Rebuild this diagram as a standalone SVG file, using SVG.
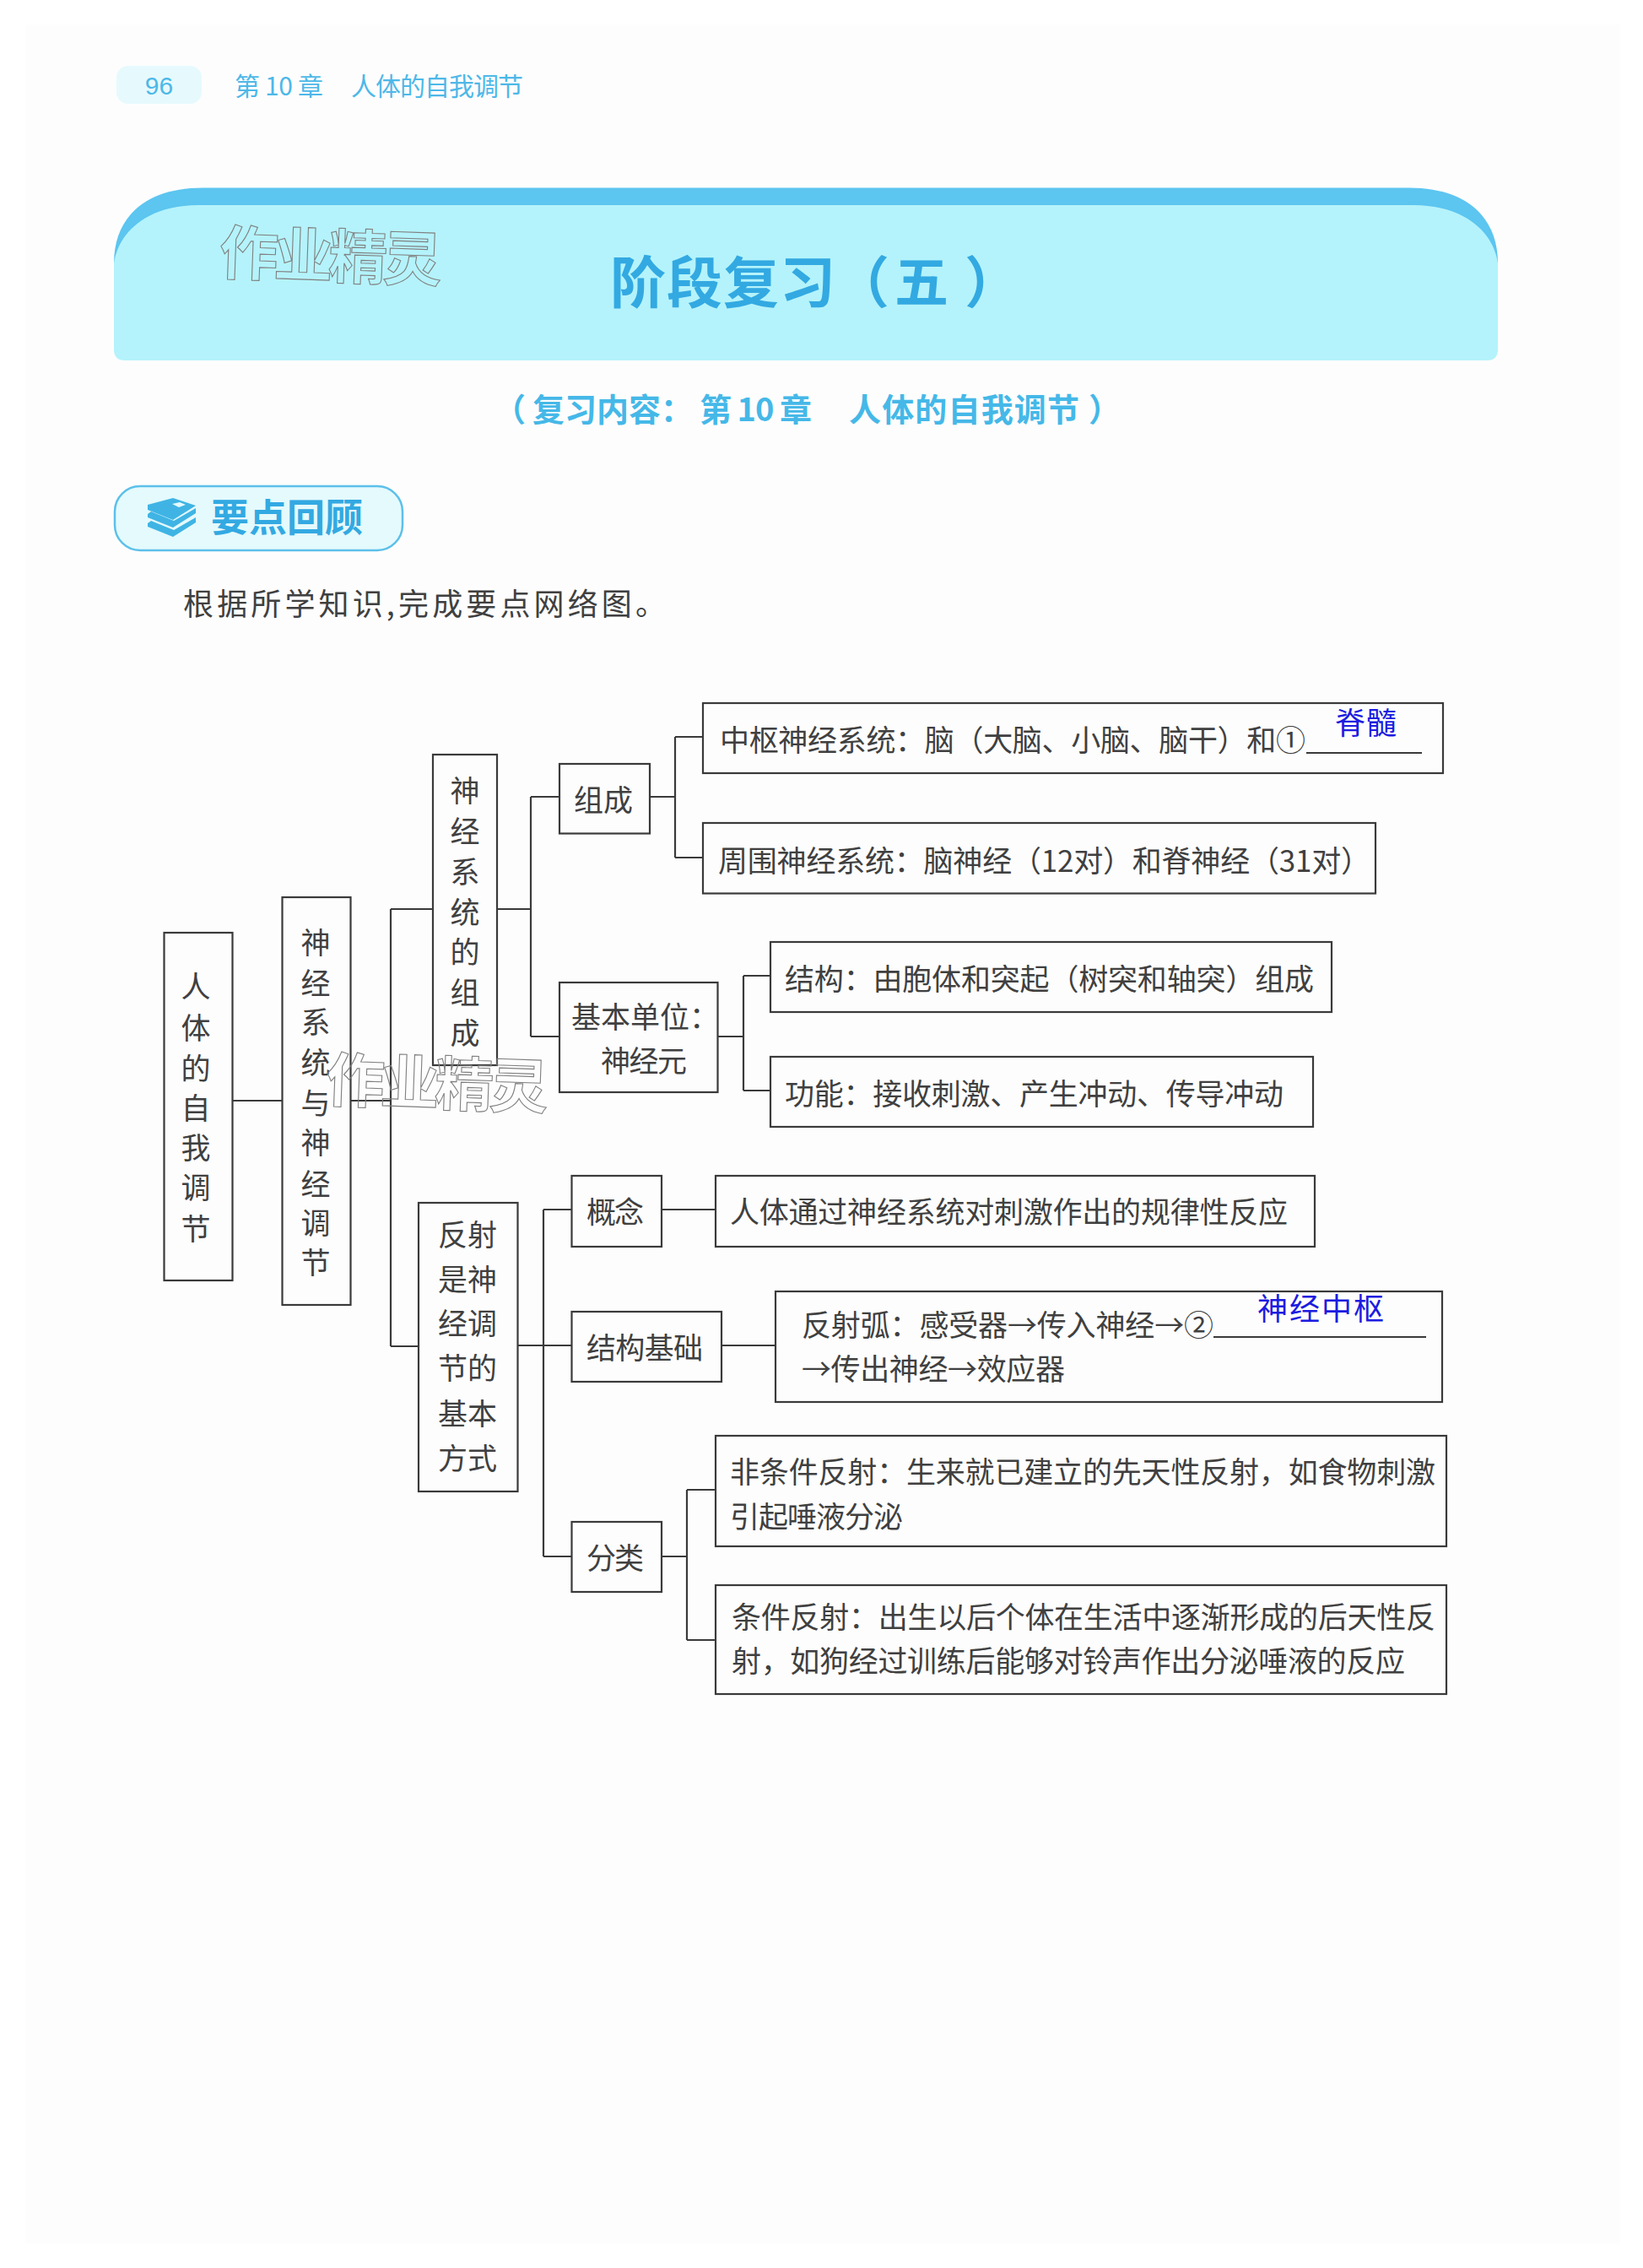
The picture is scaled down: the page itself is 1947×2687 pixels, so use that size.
<svg xmlns="http://www.w3.org/2000/svg" width="1947" height="2687" viewBox="0 0 1947 2687">
<defs>
<style>
text{font-family:"Noto Sans CJK SC","Noto Sans",sans-serif}
.t{font-size:35px;fill:#404040}
.m{text-anchor:middle}
.a{font-size:36px;fill:#1c1ce0}
.b{fill:#fdfdfd;stroke:#3a3a3a;stroke-width:2.2}
.c{fill:none;stroke:#3a3a3a;stroke-width:2.2}
.h{fill:#33a9e2;font-weight:700}
.s{fill:#45b8e8;font-weight:700;font-size:38px}
.p{fill:#4db8e8;font-size:30px}
.w{fill:none;stroke:#808080;stroke-width:1.1;font-size:70px;font-weight:700}
</style>
</defs>
<rect width="1947" height="2687" fill="#ffffff"/>
<rect x="30" y="29" width="1890" height="2629" fill="#fdfdfd"/>
<g id="header">
<rect x="138" y="78" width="101" height="45" rx="14" fill="#e6fafd"/>
<text x="188.500" y="112" class="m" font-size="30" fill="#4db8e8" style="font-family:'Liberation Sans',sans-serif">96</text>
<text x="278" y="113" class="p" textLength="105" lengthAdjust="spacing">第 10 章</text>
<text x="416" y="113" class="p" textLength="204" lengthAdjust="spacing">人体的自我调节</text>
</g>
<g id="banner">
<path d="M135 380V312C135 255 175 222.500 240 222.500H1670C1735 222.500 1775 255 1775 312V380Z" fill="#5cc5f0"/>
<path d="M135 414V312C140 275 175 243 235 243H1675C1735 243 1770 275 1775 312V414Q1775 427 1762 427H148Q135 427 135 414Z" fill="#b4f3fb"/>
<text x="723" y="359" font-size="66" class="h" textLength="267" lengthAdjust="spacing">阶段复习</text>
<text x="988" y="359" font-size="66" class="h">（</text>
<text x="1060" y="357" font-size="64" class="h">五</text>
<text x="1143" y="359" font-size="66" class="h">）</text>
<text x="585" y="499" class="s">（</text>
<text x="631" y="499" class="s">复习内容：</text>
<text x="829" y="499" class="s" textLength="133" lengthAdjust="spacing">第 10 章</text>
<text x="1006" y="499" class="s" textLength="273" lengthAdjust="spacing">人体的自我调节</text>
<text x="1290" y="499" class="s">）</text>
</g>
<g id="section-badge">
<rect x="136" y="576" width="341" height="76" rx="30" fill="#e4fafd" stroke="#5cc0ea" stroke-width="2.5"/>
<g fill="#3fb4e4">
<path d="M175 620l4-3 27 11 26-15v6l-27 17-30-12z"/>
<path d="M175 609l4-3 27 11 26-15v6l-27 17-30-12z"/>
<path d="M175 598l30-8 27 9-27 17-30-12z"/>
</g>
<path d="M204 597l9-2 7 3-8 3z" fill="#e4fafd"/>
<text x="250" y="630" font-size="45" class="h" textLength="180" lengthAdjust="spacing">要点回顾</text>
</g>
<text id="instruction" x="217" y="729" style="font-size:36px;fill:#404040" textLength="572" lengthAdjust="spacing">根据所学知识,完成要点网络图。</text>

<g id="connectors" class="c">
<path d="M275 1304H334M415 1304H463M463 1077V1595M463 1077H513M463 1595H496"/>
<path d="M589 1077H629M629 944V1228M629 944H663M629 1228H663"/>
<path d="M770 944H800M800 873V1016M800 873H833M800 1016H833"/>
<path d="M850 1228H881M881 1156V1292M881 1156H913M881 1292H913"/>
<path d="M613 1594H678M644 1433V1844M644 1433H678M644 1844H678"/>
<path d="M784 1433H848M855 1594H919"/>
<path d="M784 1844H814M814 1765V1943M814 1765H848M814 1943H848"/>
</g>

<g id="n-root"><rect class="b" x="194.500" y="1105" width="81" height="412"/>
<g class="t m"><text x="232" y="1182">人</text><text x="232" y="1231">体</text><text x="232" y="1279">的</text><text x="232" y="1326">自</text><text x="232" y="1373">我</text><text x="232" y="1420">调</text><text x="232" y="1469">节</text></g></g>
<g id="n-main"><rect class="b" x="334.500" y="1063" width="81" height="483"/>
<g class="t m"><text x="374" y="1130">神</text><text x="374" y="1178">经</text><text x="374" y="1224">系</text><text x="374" y="1272">统</text><text x="374" y="1320">与</text><text x="374" y="1367">神</text><text x="374" y="1416">经</text><text x="374" y="1462">调</text><text x="374" y="1509">节</text></g></g>
<g id="n-system"><rect class="b" x="513" y="894" width="76" height="368"/>
<g class="t m"><text x="551" y="950">神</text><text x="551" y="998">经</text><text x="551" y="1046">系</text><text x="551" y="1094">统</text><text x="551" y="1141">的</text><text x="551" y="1189">组</text><text x="551" y="1237">成</text></g></g>
<g id="n-reflex"><rect class="b" x="496" y="1425" width="117.500" height="342"/>
<g class="t m"><text x="554" y="1476">反射</text><text x="554" y="1529">是神</text><text x="554" y="1581">经调</text><text x="554" y="1634">节的</text><text x="554" y="1688">基本</text><text x="554" y="1741">方式</text></g></g>
<g id="n-zucheng"><rect class="b" x="663" y="905" width="107" height="82.500"/><text class="t" x="680" y="961" textLength="70">组成</text></g>
<g id="n-unit"><rect class="b" x="663" y="1164" width="187.500" height="130"/><text class="t" x="677" y="1218" textLength="175" lengthAdjust="spacing">基本单位：</text><text class="t" x="712" y="1270" textLength="102" lengthAdjust="spacing">神经元</text></g>
<g id="n-central"><rect class="b" x="833" y="833" width="877" height="83"/>
<text class="t" x="853" y="890" textLength="694" lengthAdjust="spacing">中枢神经系统：脑（大脑、小脑、脑干）和①</text>
<path class="c" d="M1548 892H1685"/><text class="a" x="1582" y="870" textLength="73" lengthAdjust="spacing">脊髓</text></g>
<g id="n-peripheral"><rect class="b" x="833" y="975" width="797" height="83.500"/><text class="t" x="851" y="1033" textLength="773" lengthAdjust="spacing">周围神经系统：脑神经（12对）和脊神经（31对）</text></g>
<g id="n-structure"><rect class="b" x="913" y="1116" width="665" height="83"/><text class="t" x="930" y="1173" textLength="627" lengthAdjust="spacing">结构：由胞体和突起（树突和轴突）组成</text></g>
<g id="n-function"><rect class="b" x="913" y="1252" width="643" height="83"/><text class="t" x="930" y="1309" textLength="591" lengthAdjust="spacing">功能：接收刺激、产生冲动、传导冲动</text></g>
<g id="n-concept"><rect class="b" x="677.500" y="1393" width="106.500" height="84"/><text class="t" x="695" y="1449" textLength="68">概念</text></g>
<g id="n-concept-text"><rect class="b" x="848" y="1393" width="710" height="84"/><text class="t" x="865" y="1449" textLength="661" lengthAdjust="spacing">人体通过神经系统对刺激作出的规律性反应</text></g>
<g id="n-basis"><rect class="b" x="677.500" y="1554" width="177.500" height="83"/><text class="t" x="695" y="1610" textLength="138" lengthAdjust="spacing">结构基础</text></g>
<g id="n-arc"><rect class="b" x="919" y="1530" width="790" height="131"/>
<text class="t" x="950" y="1583" textLength="488" lengthAdjust="spacing">反射弧：感受器→传入神经→②</text>
<path class="c" d="M1438 1584H1690"/><text class="a" x="1490" y="1564" textLength="150" lengthAdjust="spacing">神经中枢</text>
<text class="t" x="950" y="1635" textLength="312" lengthAdjust="spacing">→传出神经→效应器</text></g>
<g id="n-class"><rect class="b" x="677.500" y="1803" width="106.500" height="83"/><text class="t" x="695" y="1859" textLength="68">分类</text></g>
<g id="n-uncond"><rect class="b" x="848" y="1701" width="866" height="131"/>
<text class="t" x="865" y="1757" textLength="836" lengthAdjust="spacing">非条件反射：生来就已建立的先天性反射，如食物刺激</text>
<text class="t" x="865" y="1810" textLength="205" lengthAdjust="spacing">引起唾液分泌</text></g>
<g id="n-cond"><rect class="b" x="848" y="1878" width="866" height="129"/>
<text class="t" x="867" y="1929" textLength="834" lengthAdjust="spacing">条件反射：出生以后个体在生活中逐渐形成的后天性反</text>
<text class="t" x="867" y="1981" textLength="798" lengthAdjust="spacing">射，如狗经过训练后能够对铃声作出分泌唾液的反应</text></g>

<g id="watermarks">
<text class="w" x="260" y="329" transform="rotate(2 392 304)" textLength="264" lengthAdjust="spacing">作业精灵</text>
<text class="w" x="386" y="1309" transform="rotate(2 517 1283)" textLength="264" lengthAdjust="spacing">作业精灵</text>
</g>
</svg>
